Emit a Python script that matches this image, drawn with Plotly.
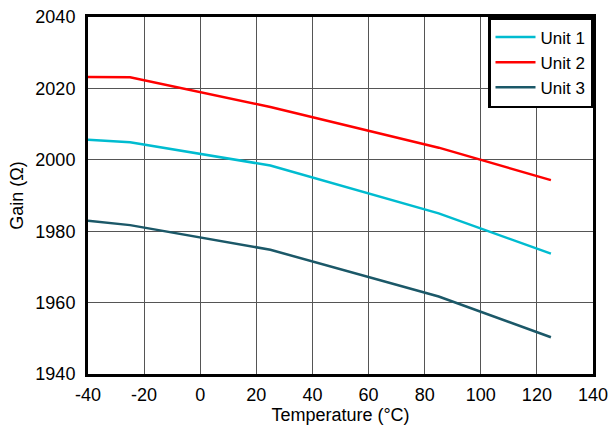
import plotly.graph_objects as go

temps = [-40, -25, 25, 85, 125]
unit1 = [2005.6, 2004.9, 1998.4, 1985.0, 1973.7]
unit2 = [2023.2, 2023.1, 2014.8, 2003.4, 1994.3]
unit3 = [1982.9, 1981.7, 1974.8, 1961.7, 1950.3]
names = ["Unit 1", "Unit 2", "Unit 3"]
colors = ["#00BCD0", "#FF0000", "#1B5868"]

x_ticks = [-40, -20, 0, 20, 40, 60, 80, 100, 120, 140]
x_labels = ["-40", "-20", "0", "20", "40", "60", "80", "100", "120", "140"]
y_ticks = [1940, 1960, 1980, 2000, 2020, 2040]

fig = go.Figure()
for name, ys, c in zip(names, [unit1, unit2, unit3], colors):
    fig.add_trace(go.Scatter(x=temps, y=ys, mode="lines", name=name,
                             line=dict(color=c, width=2.5)))

fam = "Liberation Sans, Arial, sans-serif"
fig.update_layout(
    width=608, height=430,
    margin=dict(l=88, r=15, t=17, b=56, autoexpand=False),
    plot_bgcolor="white", paper_bgcolor="white",
    font=dict(family=fam, size=18, color="black"),
    showlegend=True,
    legend=dict(x=1, y=1, xanchor="right", yanchor="top",
                bordercolor="black", borderwidth=2.5, bgcolor="white",
                font=dict(family=fam, size=17, color="black"),
                itemwidth=40, tracegroupgap=0),
)
fig.update_xaxes(range=[-40, 140], tickvals=x_ticks, ticktext=x_labels,
                 showgrid=True, gridcolor="#555555", gridwidth=1,
                 showline=True, linecolor="black", linewidth=3, mirror=True,
                 ticks="", zeroline=False, automargin=False, ticklabelstandoff=2,
                 ticklabeloverflow="allow",
                 title=dict(text="Temperature (°C)", standoff=2, font=dict(size=18)))
fig.update_yaxes(range=[1940, 2040], tickvals=y_ticks,
                 showgrid=True, gridcolor="#555555", gridwidth=1,
                 showline=True, linecolor="black", linewidth=3, mirror=True,
                 ticks="", zeroline=False, automargin=False, ticklabelstandoff=6,
                 ticklabeloverflow="allow",
                 title=dict(text="Gain (Ω)", standoff=8, font=dict(size=18)))

fig.write_html("out.html", config={"displayModeBar": False},
               post_script="document.body.style.margin='0';")
